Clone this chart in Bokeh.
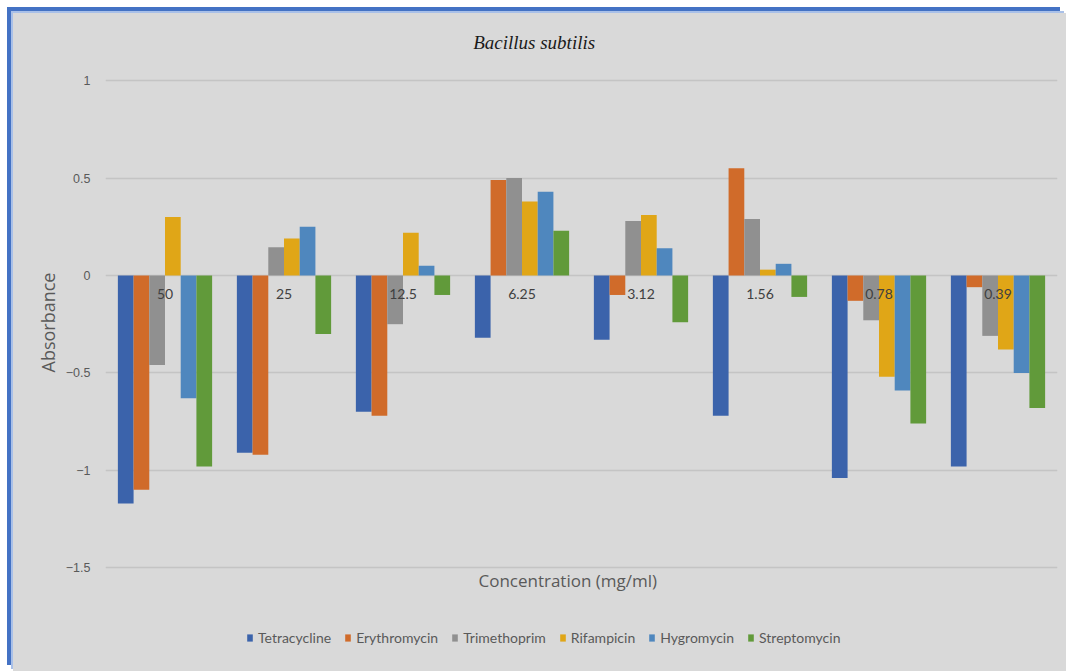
from bokeh.plotting import figure
from bokeh.models import ColumnDataSource, FactorRange, Range1d, Legend, LegendItem, Title, FixedTicker, Label
from bokeh.transform import dodge
from bokeh.core.properties import value
from bokeh.embed import file_html
from bokeh.resources import INLINE

concentrations = ["50", "25", "12.5", "6.25", "3.12", "1.56", "0.78", "0.39"]
tetracycline = [-1.17, -0.91, -0.70, -0.32, -0.33, -0.72, -1.04, -0.98]
erythromycin = [-1.10, -0.92, -0.72, 0.49, -0.10, 0.55, -0.13, -0.06]
trimethoprim = [-0.46, 0.145, -0.25, 0.50, 0.28, 0.29, -0.23, -0.31]
rifampicin = [0.30, 0.19, 0.22, 0.38, 0.31, 0.03, -0.52, -0.38]
hygromycin = [-0.63, 0.25, 0.05, 0.43, 0.14, 0.06, -0.59, -0.50]
streptomycin = [-0.98, -0.30, -0.10, 0.23, -0.24, -0.11, -0.76, -0.68]

series_names = ["Tetracycline", "Erythromycin", "Trimethoprim", "Rifampicin", "Hygromycin", "Streptomycin"]
series_values = [tetracycline, erythromycin, trimethoprim, rifampicin, hygromycin, streptomycin]
colors = ["#3B63AB", "#D06B2A", "#909090", "#E0A617", "#4F87BE", "#619A3A"]
y_ticks = [-1.5, -1, -0.5, 0, 0.5, 1]

BG = "#d9d9d9"
TXT = "#595959"

# frame covers the full chart height; gridlines only at the real ticks
p = figure(
    x_range=FactorRange(*concentrations),
    y_range=Range1d(-2.033, 1.345),
    frame_width=952, frame_height=658,
    x_axis_location=None,
    output_backend="svg", toolbar_location=None,
    min_border_left=92, min_border_right=9, min_border_top=0, min_border_bottom=0,
)
p.background_fill_color = BG
p.background_fill_alpha = 0
p.border_fill_color = BG
p.outline_line_color = None
p.styles = {"margin-top": "13px", "margin-left": "13px", "background-color": BG,
            "box-shadow": "-2px -2px 0 0 #A9C0E8, -6px -6px 0 0 #4472C4"}

# y axis
p.yaxis.ticker = FixedTicker(ticks=y_ticks)
p.yaxis.axis_line_color = None
p.yaxis.major_tick_line_color = None
p.yaxis.major_tick_out = 0
p.yaxis.major_tick_in = 0
p.yaxis.minor_tick_line_color = None
p.yaxis.major_label_text_font = "Liberation Sans"
p.yaxis.major_label_text_font_size = "12.5px"
p.yaxis.major_label_text_color = TXT
p.yaxis.major_label_standoff = 15

ylab = Title(text="Absorbance", align="left", offset=299,
             text_font="Open Sans", text_font_style="normal", text_font_size="18px",
             text_color=TXT, standoff=6)
p.add_layout(ylab, "left")

p.xgrid.grid_line_color = None
p.ygrid.grid_line_color = "#c4c4c4"
p.ygrid.grid_line_width = 1.5

bar_w = 0.132
items = []
for k, (name, vals, col) in enumerate(zip(series_names, series_values, colors)):
    src = ColumnDataSource(dict(x=concentrations, top=vals))
    off = (k - 2.5) * bar_w
    r = p.vbar(x=dodge("x", off, range=p.x_range), top="top", bottom=0, width=bar_w,
               source=src, fill_color=col, line_color=None)
    items.append(LegendItem(label=name, renderers=[r]))

lab_src = ColumnDataSource(dict(x=concentrations, y=[0] * len(concentrations), t=concentrations))
p.text(x="x", y="y", text="t", source=lab_src, text_align="center", text_baseline="middle",
       y_offset=19, text_font=value("Lato"), text_font_size="14px", text_color="#404040")

title = Label(x=3.09, y=1.196, text="Bacillus subtilis", text_align="left", text_baseline="middle",
              text_font="Liberation Serif", text_font_style="italic", text_font_size="19px",
              text_color="#1a1a1a")
p.add_layout(title)

xlab = Label(x=3.134, y=-1.566, text="Concentration (mg/ml)", text_align="left", text_baseline="middle",
             text_font="Open Sans", text_font_size="17px", text_color=TXT)
p.add_layout(xlab)

legend = Legend(items=items, orientation="horizontal", location=(141, 25),
                background_fill_color=BG, background_fill_alpha=0, border_line_color=None,
                label_text_font="Lato", label_text_font_size="14px", label_text_color=TXT,
                glyph_width=7, glyph_height=9, label_standoff=5, spacing=13,
                margin=0, padding=0)
p.add_layout(legend, "center")

open("out.html", "w").write(file_html(p, INLINE))
